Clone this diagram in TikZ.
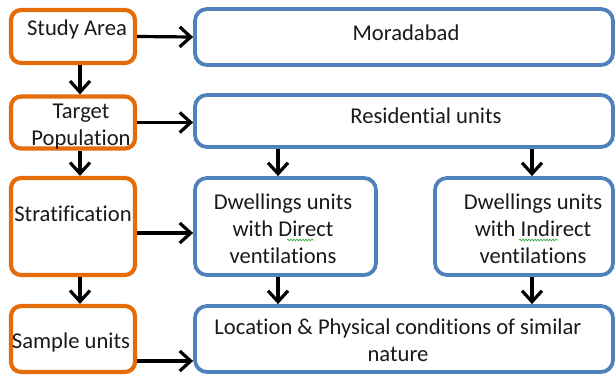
\documentclass[tikz,border=0pt]{standalone}
\usepackage{fontspec}
\setmainfont{Carlito}[Ligatures=NoCommon]
\usetikzlibrary{arrows.meta,decorations.pathmorphing}
\definecolor{obox}{HTML}{E46C0A}
\definecolor{bbox}{HTML}{4F81BD}
\definecolor{txt}{HTML}{1A1A1A}
\definecolor{spell}{HTML}{3CB043}
\begin{document}
\begin{tikzpicture}[x=1pt,y=-1pt,
  obx/.style={draw=obox,line width=4.2pt,rounded corners=10pt,fill=white,inner sep=0pt},
  bbx/.style={draw=bbox,line width=3.8pt,rounded corners=12pt,fill=white,inner sep=0pt},
  lbl/.style={font=\fontsize{22.6}{27}\selectfont,text=txt,align=center,inner sep=0pt},
  arr/.style={line width=3.2pt,-{Straight Barb[length=11pt,width=20pt,line width=3.2pt]}},
  wavy/.style={draw=spell,line width=0.7pt,decorate,decoration={snake,amplitude=0.9pt,segment length=3pt}}]
\useasboundingbox (0,0) rectangle (616,380);
% orange boxes
\node[obx,minimum width=124pt,minimum height=53pt] (sa) at (73,36.5) {};
\node[obx,minimum width=124pt,minimum height=52pt] (tp) at (73,122.5) {};
\node[obx,minimum width=124pt,minimum height=97pt] (st) at (73,226.5) {};
\node[obx,minimum width=124pt,minimum height=66pt] (su) at (73,339) {};
% blue boxes
\node[bbx,minimum width=418pt,minimum height=56pt] (mo) at (404,37) {};
\node[bbx,minimum width=418pt,minimum height=52pt] (ru) at (404,121) {};
\node[bbx,minimum width=181pt,minimum height=97pt] (dd) at (285.5,226.5) {};
\node[bbx,minimum width=178pt,minimum height=97pt] (di) at (524,226.5) {};
\node[bbx,minimum width=418pt,minimum height=66pt] (lo) at (404,339) {};
% texts
\node[lbl] (tsa) at (77,29) {Study Area};
\node[lbl] (ttp) at (81,127) {Target\\Population};
\node[lbl] (tst) at (73,214) {Stratification};
\node[lbl] (tsu) at (71,342) {Sample units};
\node[lbl] (tmo) at (406,33) {Moradabad};
\node[lbl] (tru) at (426,116) {Residential units};
\node[lbl] (tdd) at (283,229) {Dwellings units\\with Direct\\ventilations};
\node[lbl] (tdi) at (533,229) {Dwellings units\\with Indirect\\ventilations};
\node[lbl] (tlo) at (398,340) {Location \& Physical conditions of similar\\nature};
% spell-check underlines
\draw[wavy] (287,240) -- (314,240);
\draw[wavy] (519,240) -- (558,240);
% horizontal arrows
\draw[arr] (sa.east) -- (mo.west);
\draw[arr] (tp.east) -- (tp.east -| ru.west);
\draw[arr] ([yshift=-6.5pt]st.east) -- ([yshift=-6.5pt]st.east -| dd.west);
\draw[arr] ([yshift=-22pt]su.east) -- ([yshift=-22pt]su.east -| lo.west);
% vertical arrows left
\draw[arr] (sa.south -| 80,0) -- (tp.north -| 80,0);
\draw[arr] (tp.south -| 80,0) -- (st.north -| 80,0);
\draw[arr] (st.south -| 80,0) -- (su.north -| 80,0);
% vertical arrows right
\draw[arr] (ru.south -| 278,0) -- (dd.north -| 278,0);
\draw[arr] (ru.south -| 532,0) -- (di.north -| 532,0);
\draw[arr] (dd.south -| 278,0) -- (lo.north -| 278,0);
\draw[arr] (di.south -| 532,0) -- (lo.north -| 532,0);
\end{tikzpicture}
\end{document}
